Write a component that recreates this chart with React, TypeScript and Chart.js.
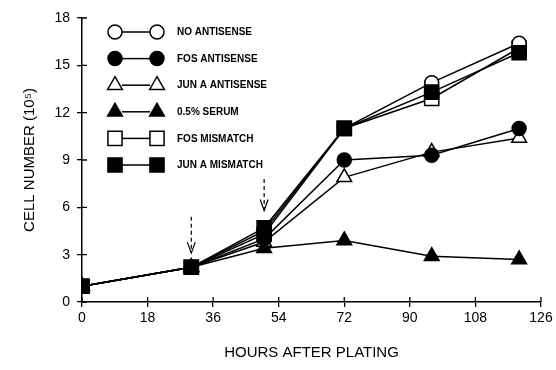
import React, { useEffect, useRef } from "react";
import { Chart, registerables } from "chart.js";

Chart.register(...registerables);

const hours = [0, 30, 50, 72, 96, 120];
const noAntisense = [1.0, 2.2, 4.5, 11.0, 13.9, 16.4];
const fosAntisense = [1.0, 2.2, 4.0, 9.0, 9.3, 11.0];
const junAAntisense = [1.0, 2.2, 3.8, 7.9, 9.5, 10.4];
const serum = [1.0, 2.2, 3.4, 3.9, 2.9, 2.7];
const fosMismatch = [1.0, 2.2, 4.3, 11.0, 12.9, 16.1];
const junAMismatch = [1.0, 2.2, 4.7, 11.0, 13.3, 15.8];

const seriesLabels = [
  "NO ANTISENSE",
  "FOS ANTISENSE",
  "JUN A ANTISENSE",
  "0.5% SERUM",
  "FOS MISMATCH",
  "JUN A MISMATCH",
];
const xTicks = [0, 18, 36, 54, 72, 90, 108, 126];
const yTicks = [0, 3, 6, 9, 12, 15, 18];

const arrowHours = [30, 50];
const arrowTop = [5.4, 7.8];
const arrowTip = [3.1, 5.8];

const FONT = "'Liberation Sans', Arial, sans-serif";

type Style = { shape: string; filled: boolean; r: number };
const styles: Style[] = [
  { shape: "circle", filled: false, r: 7 },
  { shape: "circle", filled: true, r: 7 },
  { shape: "triangle", filled: false, r: 8.5 },
  { shape: "triangle", filled: true, r: 8.5 },
  { shape: "rect", filled: false, r: 10 },
  { shape: "rect", filled: true, r: 10 },
];

function drawMarker(ctx: CanvasRenderingContext2D, s: Style, x: number, y: number) {
  ctx.save();
  ctx.beginPath();
  if (s.shape === "circle") {
    ctx.arc(x, y, s.r, 0, Math.PI * 2);
  } else if (s.shape === "rect") {
    const h = s.r * Math.SQRT1_2;
    ctx.rect(x - h, y - h, 2 * h, 2 * h);
  } else {
    for (let k = 0; k < 3; k++) {
      const a = -Math.PI / 2 + (k * 2 * Math.PI) / 3;
      const px = x + Math.cos(a) * s.r;
      const py = y + Math.sin(a) * s.r;
      if (k === 0) ctx.moveTo(px, py);
      else ctx.lineTo(px, py);
    }
    ctx.closePath();
  }
  ctx.fillStyle = s.filled ? "#000" : "#fff";
  ctx.fill();
  ctx.lineWidth = 1.5;
  ctx.strokeStyle = "#000";
  ctx.stroke();
  ctx.restore();
}

const extrasPlugin = {
  id: "extras",
  afterDraw(chart: any) {
    const ctx: CanvasRenderingContext2D = chart.ctx;
    const xs = chart.scales.x;
    const ys = chart.scales.y;
    ctx.save();
    ctx.strokeStyle = "#000";
    ctx.lineWidth = 1.3;
    // inner tick marks
    ctx.beginPath();
    xTicks.forEach((v) => {
      const px = xs.getPixelForValue(v);
      ctx.moveTo(px, ys.bottom);
      ctx.lineTo(px, ys.bottom - 5);
    });
    yTicks.forEach((v) => {
      const py = ys.getPixelForValue(v);
      ctx.moveTo(xs.left, py);
      ctx.lineTo(xs.left + 5, py);
    });
    ctx.stroke();

    // arrows
    arrowHours.forEach((h, i) => {
      const px = xs.getPixelForValue(h);
      const y0 = ys.getPixelForValue(arrowTop[i]);
      const y1 = ys.getPixelForValue(arrowTip[i]);
      ctx.beginPath();
      ctx.setLineDash([4, 3]);
      ctx.lineWidth = 1.2;
      ctx.moveTo(px, y0);
      ctx.lineTo(px, y1);
      ctx.stroke();
      ctx.setLineDash([]);
      ctx.beginPath();
      ctx.moveTo(px - 4, y1 - 11);
      ctx.lineTo(px, y1);
      ctx.lineTo(px + 4, y1 - 11);
      ctx.stroke();
    });

    // legend
    const lx1 = 115;
    const lx2 = 157;
    seriesLabels.forEach((label, i) => {
      const y = 32 + i * 26.6;
      ctx.beginPath();
      ctx.lineWidth = 1.5;
      ctx.strokeStyle = "#000";
      ctx.moveTo(lx1 + 7, y);
      ctx.lineTo(lx2 - 7, y);
      ctx.stroke();
      drawMarker(ctx, styles[i], lx1, y);
      drawMarker(ctx, styles[i], lx2, y);
      ctx.fillStyle = "#000";
      ctx.font = `bold 10px ${FONT}`;
      ctx.textAlign = "left";
      ctx.textBaseline = "middle";
      ctx.fillText(label, 177, y + 0.5);
    });
    ctx.restore();
  },
};

const seriesValues = [noAntisense, fosAntisense, junAAntisense, serum, fosMismatch, junAMismatch];
const drawOrder = [3, 1, 4, 2, 5, 0];

export default function App() {
  const ref = useRef<HTMLCanvasElement | null>(null);
  useEffect(() => {
    if (!ref.current) return;
    const datasets = seriesValues.map((vals, i) => ({
      label: seriesLabels[i],
      data: vals.map((v, j) => ({ x: hours[j], y: v })),
      borderColor: "#000",
      borderWidth: 1.5,
      backgroundColor: styles[i].filled ? "#000" : "#fff",
      pointStyle: styles[i].shape,
      pointRadius: styles[i].r,
      pointBorderWidth: 1.5,
      pointBorderColor: "#000",
      pointBackgroundColor: styles[i].filled ? "#000" : "#fff",
      tension: 0,
      fill: false,
      order: drawOrder[i],
    }));
    const chart = new Chart(ref.current, {
      type: "line",
      data: { datasets },
      plugins: [extrasPlugin],
      options: {
        responsive: false,
        animation: false,
        layout: { padding: { left: 0, right: 15, top: 18, bottom: 0 } },
        plugins: { legend: { display: false }, tooltip: { enabled: false } },
        scales: {
          x: {
            type: "linear",
            min: 0,
            max: 126,
            afterBuildTicks: (s: any) => {
              s.ticks = xTicks.map((v) => ({ value: v }));
            },
            afterFit: (s: any) => {
              s.height = 68;
            },
            border: { display: true, color: "#000", width: 1.5 },
            grid: { drawOnChartArea: false, drawTicks: true, tickLength: 5, color: "#000", lineWidth: 1.3 },
            ticks: {
              color: "#000",
              padding: 3,
              maxRotation: 0,
              font: { family: FONT, size: 14 },
            },
            title: {
              display: true,
              text: "HOURS AFTER PLATING",
              color: "#000",
              font: { family: FONT, size: 15 },
              padding: { top: 0, bottom: 8 },
            },
          },
          y: {
            type: "linear",
            min: 0,
            max: 18,
            afterBuildTicks: (s: any) => {
              s.ticks = yTicks.map((v) => ({ value: v }));
            },
            afterFit: (s: any) => {
              s.width = 82;
            },
            border: { display: true, color: "#000", width: 1.5 },
            grid: { drawOnChartArea: false, drawTicks: true, tickLength: 5, color: "#000", lineWidth: 1.3 },
            ticks: {
              color: "#000",
              padding: 7,
              font: { family: FONT, size: 14 },
            },
            title: {
              display: true,
              text: "CELL NUMBER (10\u2075)",
              color: "#000",
              font: { family: FONT, size: 15 },
              padding: { top: 21, bottom: 0 },
            },
          },
        },
      },
    } as any);
    return () => chart.destroy();
  }, []);
  return (
    <div style={{ position: "fixed", left: 0, top: 0, width: 556, height: 370, background: "#fff" }}>
      <canvas ref={ref} width={556} height={370} style={{ width: 556, height: 370 }} />
    </div>
  );
}
